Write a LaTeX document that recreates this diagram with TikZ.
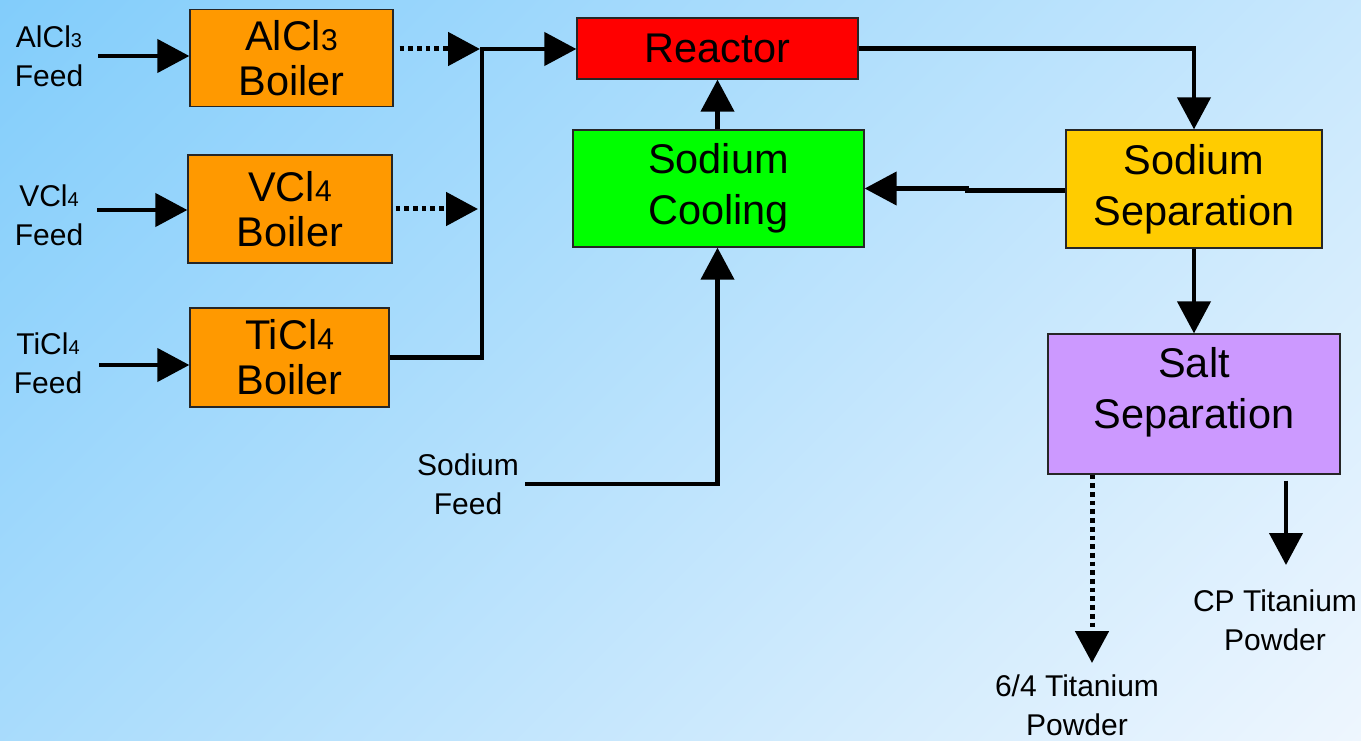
\documentclass[tikz,border=0pt]{standalone}
\usepackage{fontspec}
\setmainfont{Liberation Sans}
\usetikzlibrary{arrows.meta}
\definecolor{bgA}{RGB}{130,205,251}
\definecolor{bgB}{RGB}{238,246,254}
\definecolor{boilc}{RGB}{255,153,0}
\definecolor{reacc}{RGB}{255,0,0}
\definecolor{coolc}{RGB}{0,255,0}
\definecolor{nasepc}{RGB}{255,204,0}
\definecolor{saltc}{RGB}{204,153,255}
\newcommand\bsub[1]{{\fontsize{30}{30}\selectfont #1}}
\newcommand\lsub[1]{{\fontsize{20}{20}\selectfont #1}}
\tikzset{
  box/.style={draw=black!85, line width=1.3pt, inner sep=0pt, align=center,
    font=\fontsize{41.5}{45}\selectfont},
  wbox/.style={box, font=\fontsize{41.5}{51}\selectfont},
  wtext/.style={inner sep=0pt, align=center, font=\fontsize{41.5}{51}\selectfont},
  lab/.style={inner sep=0pt, align=center, font=\fontsize{30}{39}\selectfont},
  conn/.style={line width=4.3pt, line join=miter, black},
  arr/.style={conn, -{Triangle[length=32pt,width=33pt]}},
  darr/.style={arr, line width=5pt, dash pattern=on 4.7pt off 4pt}
}
\begin{document}
\begin{tikzpicture}[x=1pt,y=-1pt]
\useasboundingbox (0,0) rectangle (1361,741);
\clip (0,0) rectangle (1361,741);
\begin{scope}[transform canvas={rotate=-45}]
  \shade[left color=bgA, right color=bgB] (0,-1100) rectangle (1486,1100);
\end{scope}

% boxes
\node[box, fill=boilc, minimum width=203pt, minimum height=97pt] (alb) at (291.5,58) {AlCl\bsub{3}\\Boiler};
\node[box, fill=boilc, minimum width=204pt, minimum height=108pt] (vb) at (290,209) {VCl\bsub{4}\\Boiler};
\node[box, fill=boilc, minimum width=199pt, minimum height=99pt] (tb) at (289.5,357.5) {TiCl\bsub{4}\\Boiler};
\node[box, fill=reacc, minimum width=281pt, minimum height=61pt] (reactor) at (717.5,48.5) {Reactor};
\node[wbox, fill=coolc, minimum width=291pt, minimum height=117pt] (cool) at (718.5,188.5) {Sodium\\Cooling};
\node[wbox, fill=nasepc, minimum width=256pt, minimum height=118pt] (nasep) at (1194,189) {Sodium\\Separation};
\node[box, fill=saltc, minimum width=292pt, minimum height=140pt] (salt) at (1194,404) {};
\node[wtext] (salttext) at (1194,392) {Salt\\Separation};

% labels
\node[lab] (alfeed) at (49,56) {AlCl\lsub{3}\\Feed};
\node[lab] (vfeed) at (49,215) {VCl\lsub{4}\\Feed};
\node[lab] (tfeed) at (48,363) {TiCl\lsub{4}\\Feed};
\node[lab] (nafeed) at (468,484) {Sodium\\Feed};
\node[lab] (cp) at (1275,620) {CP Titanium\\Powder};
\node[lab] (ti64) at (1077,705) {6/4 Titanium\\Powder};

% coordinates
\coordinate (alin) at (98,56);
\coordinate (vin) at (97,210);
\coordinate (tin) at (99,365);
\coordinate (j1) at (482,49);
\coordinate (j2) at (482,209);
\coordinate (jog) at (967,188.5);
\coordinate (nain) at (525,484);
\coordinate (o1) at (1092,663);
\coordinate (o2) at (1286,565);

% feeds
\draw[arr] (alin) -- (alin -| alb.west);
\draw[arr] (vin) -- (vin -| vb.west);
\draw[arr] (tin) -- (tin -| tb.west);

% boilers to junction
\draw[darr, shorten <=6pt, shorten >=2pt] (j1 -| alb.east) -- (j1);
\draw[darr, shorten <=3pt, shorten >=4pt] (j2 -| vb.east) -- (j2);
\draw[arr] (tb.east) -- (tb.east -| j1) -- (j1) -- (j1 -| reactor.west);

% main loop
\draw[arr] (reactor.east) -| (nasep.north);
\draw[arr] (nasep.west |- 0,190.5) -- (jog |- 0,190.5) -- (jog) -- (jog -| cool.east);
\draw[arr] (reactor.south |- cool.north) -- (reactor.south);
\draw[arr] (nain) -| (reactor.south |- cool.south);
\draw[arr] (nasep.south) -- (nasep.south |- salt.north);

% outputs
\draw[darr] (o1 |- salt.south) -- (o1);
\draw[arr, shorten <=6pt] (o2 |- salt.south) -- (o2);
\end{tikzpicture}
\end{document}
